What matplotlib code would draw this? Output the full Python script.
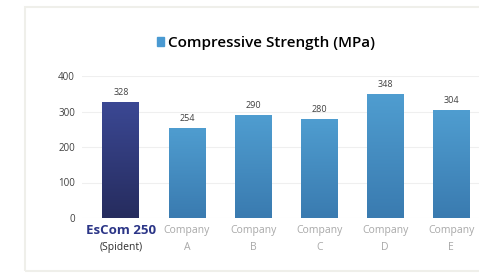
import numpy as np
import matplotlib.pyplot as plt
from matplotlib.patches import Rectangle, Patch
from matplotlib.colors import LinearSegmentedColormap

categories = ["EsCom 250\n(Spident)", "Company\nA", "Company\nB", "Company\nC", "Company\nD", "Company\nE"]
values = [328, 254, 290, 280, 348, 304]
yticks = [0, 100, 200, 300, 400]

W, H = 479, 276
fig = plt.figure(figsize=(W / 100, H / 100), dpi=100)
plt.rcParams['font.family'] = ['Open Sans', 'DejaVu Sans']

# outer frame
fig.patches.append(Rectangle((25 / W, 1 - 271 / H), 520 / W, 264 / H, transform=fig.transFigure,
                             fill=False, edgecolor='#efefea', lw=1.5))

ax = fig.add_axes([82 / W, 1 - 218 / H, (W - 82) / W, (218 - 76) / H])
x = np.arange(len(values))
bars = ax.bar(x, values, width=0.56, color='#4a90c4', zorder=2)

navy = LinearSegmentedColormap.from_list('navy', ['#262c5e', '#3b4894'])
blue = LinearSegmentedColormap.from_list('blue', ['#3a7bb0', '#4f9dd0'])
grad = np.linspace(0, 1, 64).reshape(-1, 1)
for i, b in enumerate(bars):
    bx, by = b.get_x(), b.get_y()
    im = ax.imshow(grad, cmap=navy if i == 0 else blue, origin='lower', aspect='auto',
                   extent=[bx, bx + b.get_width(), by, by + b.get_height()], zorder=3)
    im.set_clip_path(b)
    ax.text(b.get_x() + b.get_width() / 2, values[i] + 14, str(values[i]),
            ha='center', va='bottom', fontsize=6.5, color='#404040')

ax.set_xlim(-0.59, 5.42)
ax.set_ylim(0, 400)
ax.set_yticks(yticks)
ax.set_yticklabels([str(t) for t in yticks], fontsize=7, color='#404040')
ax.yaxis.grid(True, color='#efefef', lw=0.8, zorder=0)
ax.set_axisbelow(True)
for s in ax.spines.values():
    s.set_visible(False)
ax.tick_params(length=0, pad=5)
ax.set_xticks([])

# category labels, two lines each
for i, cat in enumerate(categories):
    top, bottom = cat.split('\n')
    if i == 0:
        ax.text(i, -34, top, ha='center', va='center', fontsize=9.5,
                fontweight='bold', color='#2b3587')
        ax.text(i, -82, bottom, ha='center', va='center', fontsize=7.5, color='#303030')
    else:
        ax.text(i, -34, top, ha='center', va='center', fontsize=7.5, color='#a8a8a8')
        ax.text(i, -82, bottom, ha='center', va='center', fontsize=7.5, color='#a8a8a8')

fig.legend(handles=[Patch(color='#4a9ad2')], labels=['Compressive Strength (MPa)'],
           loc='center', bbox_to_anchor=(266 / W, 1 - 43 / H), frameon=False,
           handlelength=0.45, handleheight=0.45, handletextpad=0.3,
           prop={'weight': 'semibold', 'size': 11})

fig.savefig('out.png', dpi=100)
